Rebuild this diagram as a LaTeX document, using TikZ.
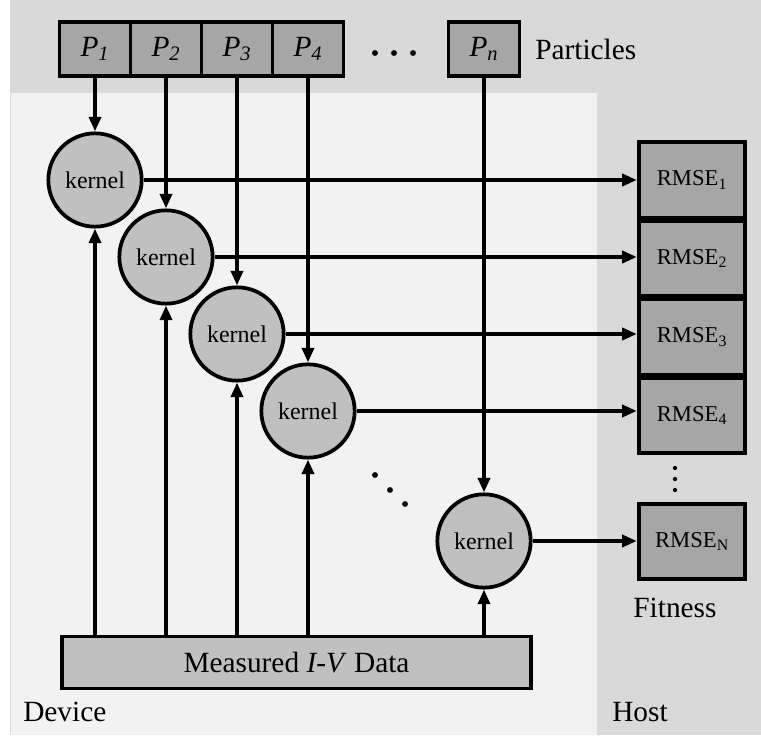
\documentclass[tikz,border=0pt]{standalone}
\usepackage{fontspec}
\setmainfont{Liberation Serif}
\usetikzlibrary{arrows.meta,positioning}
\definecolor{hostbg}{HTML}{D9D9D9}
\definecolor{devicebg}{HTML}{F2F2F2}
\definecolor{boxgray}{HTML}{A6A6A6}
\definecolor{kernelgray}{HTML}{C0C0C0}
\tikzset{
  thickline/.style={line width=2.8pt},
  arr/.style={thickline,-{Triangle[length=11pt,width=9pt]}},
  pbox/.style={draw,thickline,fill=boxgray,minimum width=53.25pt,
    minimum height=40.5pt,inner sep=0pt,font=\fontsize{22}{24}\selectfont},
  kernel/.style={circle,draw,thickline,fill=kernelgray,minimum size=70pt,
    inner sep=0pt,font=\fontsize{18}{20}\selectfont},
  rmse/.style={draw,thickline,fill=boxgray,minimum width=80pt,
    minimum height=56.5pt,inner sep=0pt,font=\fontsize{17}{19}\selectfont},
  txt/.style={inner sep=0pt,font=\fontsize{22}{24}\selectfont},
}
\begin{document}
\begin{tikzpicture}[x=0.75pt,y=-0.75pt]
  \useasboundingbox (0,0) rectangle (761,738);
  % host and device areas
  \fill[white] (0,0) rectangle (761,738);
  \fill[hostbg] (10,0) rectangle (761,735);
  \fill[devicebg] (11,93) rectangle (597,735);

  % particles
  \node[pbox] (p1) at (95,49) {\textit{P}\textsubscript{\textit{1}}};
  \node[pbox] (p2) at (166,49) {\textit{P}\textsubscript{\textit{2}}};
  \node[pbox] (p3) at (237,49) {\textit{P}\textsubscript{\textit{3}}};
  \node[pbox] (p4) at (308,49) {\textit{P}\textsubscript{\textit{4}}};
  \node[pbox] (pn) at (484,49) {\textit{P}\textsubscript{\textit{n}}};
  \foreach \x in {375,394,413} \fill (\x,53) circle (2.2pt);
  \node[txt,anchor=west] (particles) at (535,49) {Particles};

  % kernels
  \node[kernel] (k1) at (95,180) {kernel};
  \node[kernel] (k2) at (166,257) {kernel};
  \node[kernel] (k3) at (237,334) {kernel};
  \node[kernel] (k4) at (308,411) {kernel};
  \node[kernel] (kn) at (484,541) {kernel};
  \foreach \x/\y in {375/475,390/490,405/504} \fill (\x,\y) circle (2.2pt);

  % fitness
  \node[rmse] (r1) at (692,180) {RMSE\textsubscript{1}};
  \node[rmse] (r2) at (692,258.5) {RMSE\textsubscript{2}};
  \node[rmse] (r3) at (692,337) {RMSE\textsubscript{3}};
  \node[rmse] (r4) at (692,415.5) {RMSE\textsubscript{4}};
  \node[rmse] (rn) at (692,541.5) {RMSE\textsubscript{N}};
  \foreach \y in {468,479,490} \fill (675,\y) circle (1.6pt);
  \node[txt] (fitness) at (675,608) {Fitness};

  \node[draw,thickline,fill=kernelgray,minimum width=352pt,
    minimum height=39pt,font=\fontsize{22}{24}\selectfont]
    (data) at (296.5,662.5) {Measured \textit{I-V} Data};

  \foreach \k in {1,2,3,4,n} {
    \draw[arr] (p\k) -- (k\k);
    \draw[arr] (data.north -| k\k) -- (k\k);
    \draw[arr] (k\k) -- (k\k -| r\k.west);
  }

  \node[txt,anchor=west] (device) at (23,712) {Device};
  \node[txt,anchor=west] (host) at (612,712) {Host};
\end{tikzpicture}
\end{document}
